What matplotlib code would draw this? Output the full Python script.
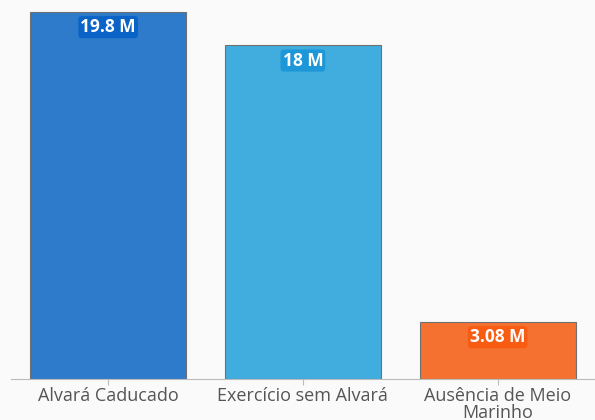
import matplotlib.pyplot as plt

categories = ["Alvará Caducado", "Exercício sem Alvará", "Ausência de Meio\nMarinho"]
values = [19.8, 18.0, 3.08]
labels = ["19.8 M", "18 M", "3.08 M"]
bar_colors = ["#2f7bcb", "#41addf", "#f57130"]
box_colors = ["#0a63c6", "#1d97d8", "#f75c12"]

plt.rcParams['font.family'] = ['Open Sans', 'DejaVu Sans']

fig = plt.figure(figsize=(5.95, 4.2), dpi=100, facecolor="#fafafa")
ax = fig.add_axes([10.75 / 595, 41 / 420, 1 - 10.75 / 595, 379 / 420])
ax.set_facecolor("#fafafa")

x = range(len(categories))
ax.bar(x, values, width=0.8, color=bar_colors, edgecolor="#707070", linewidth=0.8, zorder=2)

for i, (v, lab) in enumerate(zip(values, labels)):
    ax.annotate(lab, (i, v), xytext=(0, -11), textcoords="offset points",
                ha="center", va="center", color="white", fontsize=12.5, fontweight="bold",
                bbox=dict(boxstyle="round,pad=0.12,rounding_size=0.2", fc=box_colors[i], ec="none"),
                zorder=3)

ax.set_xlim(-0.5, 2.5)
ax.set_ylim(0, 20.44)
ax.set_xticks(list(x))
ax.set_xticklabels(categories, fontsize=13, color="#555555", linespacing=0.9)
ax.tick_params(axis="x", length=4, color="#bbbbbb", pad=2)
ax.set_yticks([])
for s in ["top", "right", "left"]:
    ax.spines[s].set_visible(False)
ax.spines["bottom"].set_color("#bbbbbb")

fig.savefig("out.png", dpi=100, facecolor=fig.get_facecolor())
